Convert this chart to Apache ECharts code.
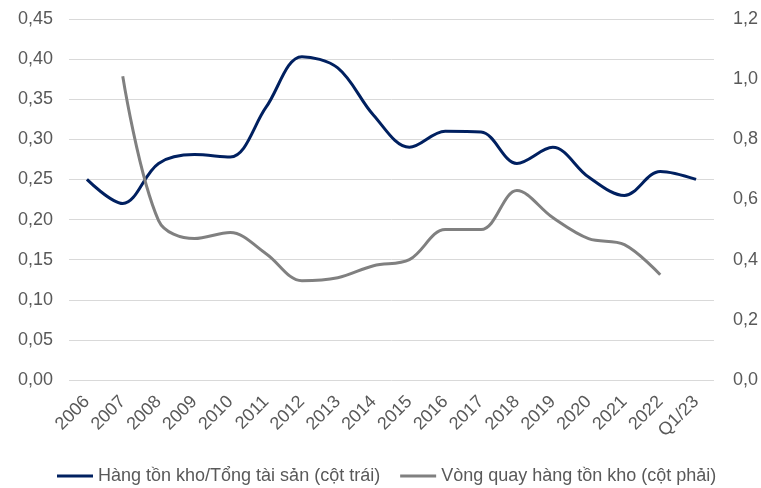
<!DOCTYPE html>
<html>
<head>
<meta charset="utf-8">
<script src="https://cdn.jsdelivr.net/npm/echarts@6/dist/echarts.min.js"></script>
<style>
  html, body { margin: 0; padding: 0; background: #ffffff; }
  #chart { width: 761px; height: 488px; }
</style>
</head>
<body>
<div id="chart"></div>
<script>
// Categories (years)
const categories = ['2006', '2007', '2008', '2009', '2010', '2011', '2012', '2013', '2014',
  '2015', '2016', '2017', '2018', '2019', '2020', '2021', '2022', 'Q1/23'];

// Inventory / total assets (left axis)
const inventoryRatio = [0.25, 0.22, 0.27, 0.281, 0.278, 0.34, 0.403, 0.389, 0.33,
  0.29, 0.31, 0.309, 0.27, 0.29, 0.253, 0.23, 0.26, 0.25];

// Inventory turnover (right axis); no value for 2006 and Q1/23
const inventoryTurnover = [null, 1.01, 0.53, 0.47, 0.49, 0.42, 0.33, 0.34, 0.38,
  0.40, 0.50, 0.50, 0.63, 0.54, 0.47, 0.45, 0.35, null];

const seriesNames = ['Hàng tồn kho/Tổng tài sản (cột trái)', 'Vòng quay hàng tồn kho (cột phải)'];

const textColor = '#595959';
const font = "'Liberation Sans', Arial, sans-serif";

const chart = echarts.init(document.getElementById('chart'), null, { renderer: 'canvas' });

chart.setOption({
  animation: false,
  backgroundColor: '#ffffff',
  textStyle: { fontFamily: font },
  grid: { left: 69, right: 43, top: 19, bottom: 108, containLabel: false },
  legend: {
    top: 462,
    left: 52,
    icon: 'rect',
    itemWidth: 36,
    itemHeight: 3,
    itemGap: 20,
    textStyle: { color: textColor, fontSize: 18, fontFamily: font },
    data: seriesNames
  },
  xAxis: {
    type: 'category',
    data: categories,
    boundaryGap: true,
    axisLine: { show: false },
    axisTick: { show: false },
    axisLabel: { color: textColor, fontSize: 18, rotate: 45, margin: 19, interval: 0 }
  },
  yAxis: [
    {
      type: 'value',
      min: 0, max: 0.45, interval: 0.05,
      axisLine: { show: false },
      axisTick: { show: false },
      splitLine: { lineStyle: { color: '#d9d9d9', width: 1 } },
      axisLabel: {
        color: textColor, fontSize: 18, margin: 16,
        formatter: v => v.toFixed(2).replace('.', ',')
      }
    },
    {
      type: 'value',
      min: 0, max: 1.2, interval: 0.2,
      axisLine: { show: false },
      axisTick: { show: false },
      splitLine: { show: false },
      axisLabel: {
        color: textColor, fontSize: 18, margin: 19,
        formatter: v => v.toFixed(1).replace('.', ',')
      }
    }
  ],
  series: [
    {
      name: seriesNames[0],
      type: 'line',
      yAxisIndex: 0,
      data: inventoryRatio,
      smooth: 0.35,
      showSymbol: false,
      lineStyle: { color: '#002060', width: 3 },
      itemStyle: { color: '#002060' }
    },
    {
      name: seriesNames[1],
      type: 'line',
      yAxisIndex: 1,
      data: inventoryTurnover,
      smooth: 0.35,
      showSymbol: false,
      lineStyle: { color: '#808080', width: 3 },
      itemStyle: { color: '#808080' }
    }
  ]
});
</script>
</body>
</html>
